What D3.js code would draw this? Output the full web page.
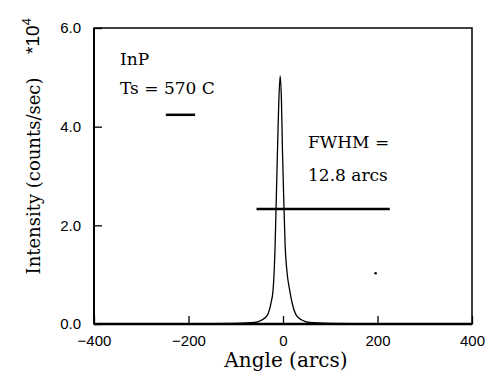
<!DOCTYPE html>
<html>
  <head>
    <meta charset="utf-8">
    <script src="https://d3js.org/d3.v7.min.js"></script>
    <style>
      body { margin: 0; background: #fff; }
      .tick text { font: 15px "Liberation Sans", Arial, sans-serif; fill: #000; }
      .serif { font-family: "DejaVu Serif", "Liberation Serif", serif; font-size: 17px; fill: #000; }
    </style>
  </head>
  <body>
    <svg id="chart" width="490" height="381"></svg>
    <script>
      // rocking curve (angle in arcs, intensity in 1e4 counts/sec)
      var angle = [-400, -300, -200, -100, -60, -45, -33, -26, -21, -17, -14.3, -11.7, -8.9, -6,
                   -3.2, -1.1, 1.7, 4.5, 8, 14, 20, 28, 40, 56, 100, 200, 300, 400];
      var intensity = [0, 0, 0, 0.01, 0.03, 0.08, 0.18, 0.4, 0.69, 1.5, 2.5, 3.5, 4.5, 5.03,
                       4.5, 3.5, 2.5, 1.6, 1.1, 0.69, 0.4, 0.18, 0.08, 0.03, 0.01, 0, 0, 0];
      var xTicks = [-400, -200, 0, 200, 400];
      var yTicks = [0, 2, 4, 6];
      // annotation marks
      var fwhmLine = { x: [-56, 226], y: 2.33 };
      var shortLine = { x: [-248, -186], y: 4.24 };
      var dot = { x: 196, y: 1.03 };

      var margin = { left: 94, top: 28, right: 18, bottom: 57 };
      var width = 490 - margin.left - margin.right,
          height = 381 - margin.top - margin.bottom;

      var svg = d3.select("#chart");
      var g = svg.append("g").attr("transform", "translate(" + margin.left + "," + margin.top + ")");

      var x = d3.scaleLinear().domain([-400, 400]).range([0, width]);
      var y = d3.scaleLinear().domain([0, 6]).range([height, 0]);

      // frame
      g.append("rect").attr("width", width).attr("height", height)
          .attr("fill", "none").attr("stroke", "#000").attr("stroke-width", 1.5);
      g.append("line").attr("x1", 0).attr("x2", width).attr("y1", height).attr("y2", height)
          .attr("stroke", "#000").attr("stroke-width", 2.5);
      g.append("line").attr("x1", 0).attr("x2", 0).attr("y1", 0).attr("y2", height)
          .attr("stroke", "#000").attr("stroke-width", 2);

      // axes, ticks pointing inward
      var xAxis = g.append("g").attr("transform", "translate(0," + height + ")")
          .call(d3.axisBottom(x).tickValues(xTicks).tickSize(-8).tickPadding(14)
            .tickFormat(function(d) { return d < 0 ? "\u2212" + Math.abs(d) : d; }));
      var yAxis = g.append("g")
          .call(d3.axisLeft(y).tickValues(yTicks).tickSize(-8).tickPadding(13)
            .tickFormat(d3.format(".1f")));
      g.selectAll(".domain").remove();
      g.selectAll(".tick line").attr("stroke", "#000").attr("stroke-width", 1.3);
      xAxis.selectAll(".tick text").attr("dy", "0.55em");

      // curve
      var pts = angle.map(function(a, i) { return [a, intensity[i]]; });
      g.append("path").datum(pts)
          .attr("fill", "none").attr("stroke", "#000").attr("stroke-width", 1.3)
          .attr("d", d3.line().curve(d3.curveMonotoneX)
            .x(function(d) { return x(d[0]); }).y(function(d) { return y(d[1]); }));

      // annotations
      g.append("line").attr("x1", x(fwhmLine.x[0])).attr("x2", x(fwhmLine.x[1]))
          .attr("y1", y(fwhmLine.y)).attr("y2", y(fwhmLine.y))
          .attr("stroke", "#000").attr("stroke-width", 2.5);
      g.append("line").attr("x1", x(shortLine.x[0])).attr("x2", x(shortLine.x[1]))
          .attr("y1", y(shortLine.y)).attr("y2", y(shortLine.y))
          .attr("stroke", "#000").attr("stroke-width", 2.5);
      g.append("circle").attr("cx", x(dot.x)).attr("cy", y(dot.y)).attr("r", 1.3).attr("fill", "#000");

      // labels
      g.append("text").attr("class", "serif").attr("x", 26).attr("y", 37).text("InP");
      g.append("text").attr("class", "serif").attr("x", 26).attr("y", 66).text("Ts = 570 C");
      g.append("text").attr("class", "serif").attr("x", 214).attr("y", 120).text("FWHM =");
      g.append("text").attr("class", "serif").attr("x", 214).attr("y", 153).text("12.8 arcs");

      svg.append("text").attr("class", "serif").attr("x", 286).attr("y", 367)
          .attr("text-anchor", "middle").style("font-size", "20px").text("Angle (arcs)");
      svg.append("text").attr("class", "serif").attr("text-anchor", "middle")
          .style("font-size", "18px")
          .attr("transform", "translate(40,176) rotate(-90)").text("Intensity (counts/sec)");
      var sci = svg.append("text").attr("transform", "translate(39,36) rotate(-90)")
          .attr("text-anchor", "middle")
          .style("font", "19px 'Liberation Sans', Arial, sans-serif");
      sci.append("tspan").text("*10");
      sci.append("tspan").attr("dy", "-0.6em").style("font-size", "13px").text("4");
    </script>
  </body>
</html>
